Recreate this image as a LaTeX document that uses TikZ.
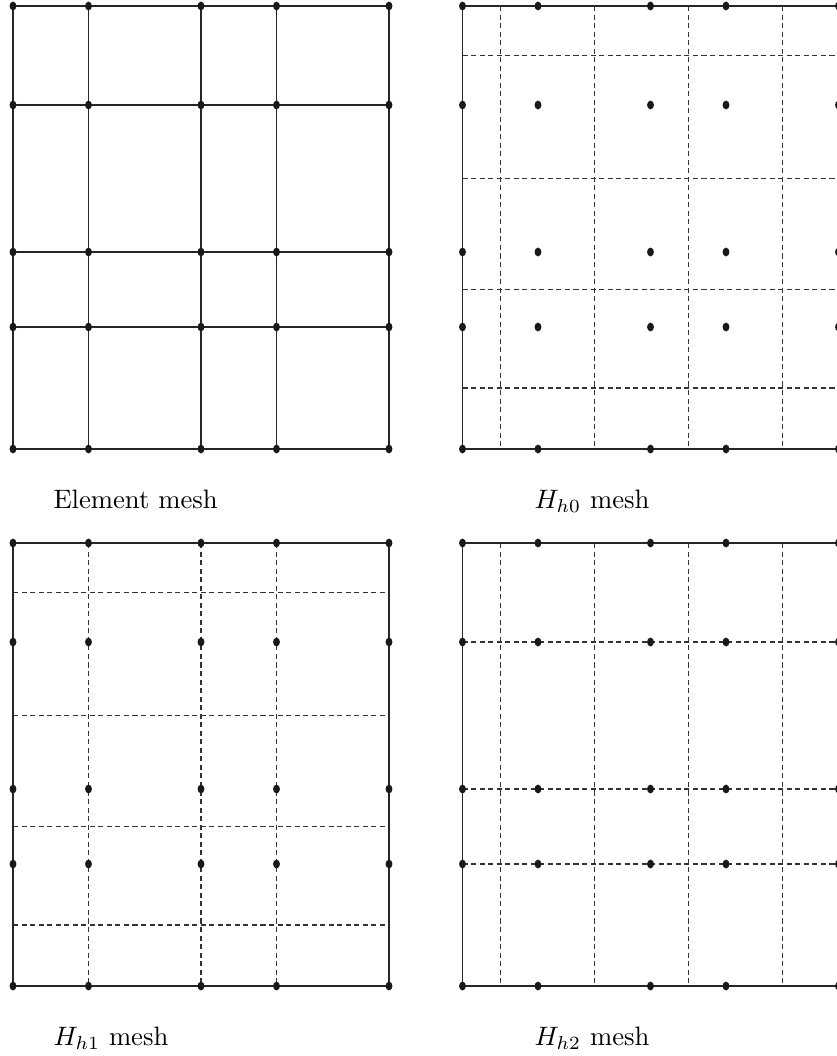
\documentclass[tikz,border=0pt]{standalone}
\begin{document}
\begin{tikzpicture}[x=0.375pt,y=-0.375pt,
  solidline/.style={line width=0.7pt, draw=black!85},
  dualline/.style={line width=0.45pt, draw=black!80, dash pattern=on 1.9pt off 1.3pt},
  dotmark/.style={fill=black!90},
  caption/.style={anchor=base west, inner sep=0pt, font=\fontsize{10}{12}\selectfont}]
\useasboundingbox (0,0) rectangle (836,1056);
\def\XS{13,88.5,201,276.5,389}
\def\YS{6,105,252,327,449}
\def\XM{50.75,144.75,238.75,332.75}
\def\YM{55.5,178.5,289.5,388}
\newcommand\meshdots{%
  \foreach \x in \XS {\foreach \y in \YS {\fill[dotmark] (\x,\y) ellipse [x radius=1.3pt, y radius=1.65pt];}}}
% Element mesh
\begin{scope}
  \foreach \x in \XS \draw[solidline] (\x,6) -- (\x,449);
  \foreach \y in \YS \draw[solidline] (13,\y) -- (389,\y);
  \meshdots
\end{scope}
% H_h0 mesh
\begin{scope}[shift={(449.5,0)}]
  \foreach \x in \XM \draw[dualline] (\x,6) -- (\x,449);
  \foreach \y in \YM \draw[dualline] (13,\y) -- (389,\y);
  \draw[solidline] (13,6) rectangle (389,449);
  \meshdots
\end{scope}
% H_h1 mesh
\begin{scope}[shift={(0,537)}]
  \foreach \x in {88.5,201,276.5} \draw[dualline] (\x,6) -- (\x,449);
  \foreach \y in \YM \draw[dualline] (13,\y) -- (389,\y);
  \draw[solidline] (13,6) rectangle (389,449);
  \meshdots
\end{scope}
% H_h2 mesh
\begin{scope}[shift={(449.5,537)}]
  \foreach \x in \XM \draw[dualline] (\x,6) -- (\x,449);
  \foreach \y in {105,252,327} \draw[dualline] (13,\y) -- (389,\y);
  \draw[solidline] (13,6) rectangle (389,449);
  \meshdots
\end{scope}
\node[caption] (c0) at (53,508) {Element mesh};
\node[caption] (c1) at (534,508) {$H_{h0}$ mesh};
\node[caption] (c2) at (53,1045.5) {$H_{h1}$ mesh};
\node[caption] (c3) at (534,1045.5) {$H_{h2}$ mesh};
\end{tikzpicture}
\end{document}
